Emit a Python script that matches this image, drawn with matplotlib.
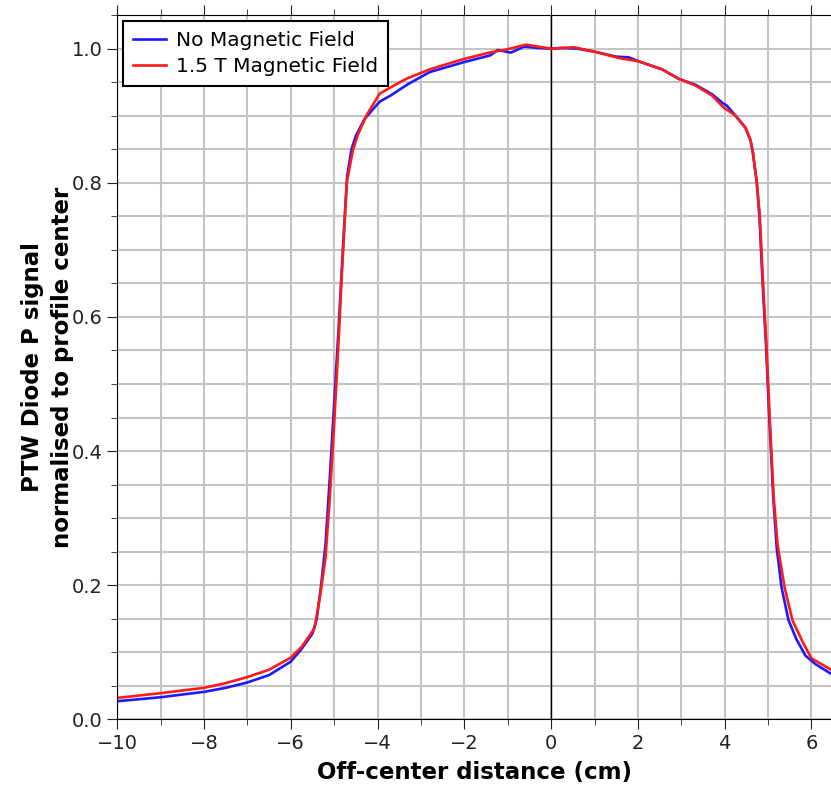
import numpy as np
import matplotlib.pyplot as plt
from matplotlib.ticker import MultipleLocator

# off-center distance (cm) and normalised signal
x_no_field = [-10.0, -9.0, -8.0, -7.5, -7.0, -6.5, -6.0, -5.75, -5.5, -5.4, -5.3, -5.2,
              -5.1, -5.0, -4.9, -4.8, -4.7, -4.6, -4.5, -4.3, -4.1, -3.95, -3.7, -3.3,
              -2.8, -2.0, -1.4, -1.23, -0.93, -0.62, -0.3, 0.0, 0.25, 0.6, 1.03, 1.5,
              1.79, 2.02, 2.56, 2.94, 3.33, 3.71, 3.95, 4.05, 4.25, 4.48, 4.6, 4.65,
              4.74, 4.8, 4.87, 4.95, 5.03, 5.12, 5.2, 5.31, 5.47, 5.65, 5.86, 6.1, 6.45]
y_no_field = [0.027, 0.033, 0.041, 0.047, 0.055, 0.066, 0.086, 0.105, 0.128, 0.150, 0.200, 0.26,
              0.36, 0.47, 0.58, 0.70, 0.81, 0.85, 0.87, 0.895, 0.91, 0.921, 0.93, 0.947,
              0.965, 0.98, 0.99, 0.998, 0.994, 1.003, 1.001, 1.0, 1.001, 1.0, 0.995, 0.988,
              0.987, 0.981, 0.969, 0.955, 0.946, 0.932, 0.919, 0.915, 0.90, 0.882, 0.862, 0.845,
              0.80, 0.75, 0.656, 0.56, 0.447, 0.33, 0.255, 0.197, 0.148, 0.12, 0.095, 0.082, 0.068]

x_field = [-10.0, -9.0, -8.0, -7.5, -7.0, -6.5, -6.0, -5.75, -5.45, -5.31, -5.2, -5.1,
           -5.0, -4.9, -4.83, -4.71, -4.57, -4.45, -4.26, -3.95, -3.34, -2.8, -2.04, -1.43,
           -1.0, -0.58, -0.3, 0.0, 0.53, 1.03, 1.56, 2.02, 2.56, 2.94, 3.33, 3.71,
           3.98, 4.25, 4.48, 4.59, 4.65, 4.74, 4.81, 4.88, 4.96, 5.04, 5.13, 5.22,
           5.38, 5.56, 5.8, 6.0, 6.45]
y_field = [0.032, 0.039, 0.047, 0.054, 0.063, 0.074, 0.092, 0.108, 0.136, 0.19, 0.24, 0.33,
           0.44, 0.56, 0.654, 0.80, 0.848, 0.872, 0.90, 0.933, 0.955, 0.969, 0.984, 0.994,
           0.999, 1.006, 1.003, 1.0, 1.002, 0.995, 0.986, 0.981, 0.969, 0.955, 0.945, 0.93,
           0.912, 0.90, 0.882, 0.865, 0.845, 0.80, 0.75, 0.656, 0.56, 0.447, 0.33, 0.26,
           0.197, 0.148, 0.115, 0.091, 0.074]


def main():
    fig = plt.figure(figsize=(8.31, 7.94), dpi=100)
    ax = fig.add_axes([0.141, 0.094, 0.859, 0.887])

    ax.plot(x_no_field, y_no_field, color='#1a1aff', lw=1.9, label='No Magnetic Field')
    ax.plot(x_field, y_field, color='#ff1a1a', lw=1.9, label='1.5 T Magnetic Field')
    ax.axvline(0, color='black', lw=1, zorder=1)

    ax.set_xlim(-10, 6.45)
    ax.set_ylim(0, 1.05)
    ax.xaxis.set_major_locator(MultipleLocator(2))
    ax.xaxis.set_minor_locator(MultipleLocator(1))
    ax.yaxis.set_major_locator(MultipleLocator(0.2))
    ax.yaxis.set_minor_locator(MultipleLocator(0.05))
    ax.grid(which='both', color='#c4c4c4', lw=1.5, zorder=0)
    ax.set_axisbelow(True)
    ax.tick_params(which='both', direction='out', top=True, labelsize=14, colors='#222222')
    ax.tick_params(which='major', length=7)
    ax.tick_params(which='minor', length=4)
    ax.spines['right'].set_visible(False)

    ax.set_xlabel('Off-center distance (cm)', fontsize=16.5, fontweight='bold', labelpad=6)
    ax.set_ylabel('PTW Diode P signal\nnormalised to profile center', fontsize=16.5,
                  fontweight='bold', linespacing=1.4, labelpad=-2)

    leg = ax.legend(loc='upper left', fontsize=14.5, fancybox=False, framealpha=1,
                    edgecolor='black', borderaxespad=0.3, handlelength=1.6,
                    labelspacing=0.35, handletextpad=0.5, borderpad=0.5)
    leg.get_frame().set_linewidth(1.5)

    fig.savefig('out.png', dpi=100)


if __name__ == "__main__":
    main()
